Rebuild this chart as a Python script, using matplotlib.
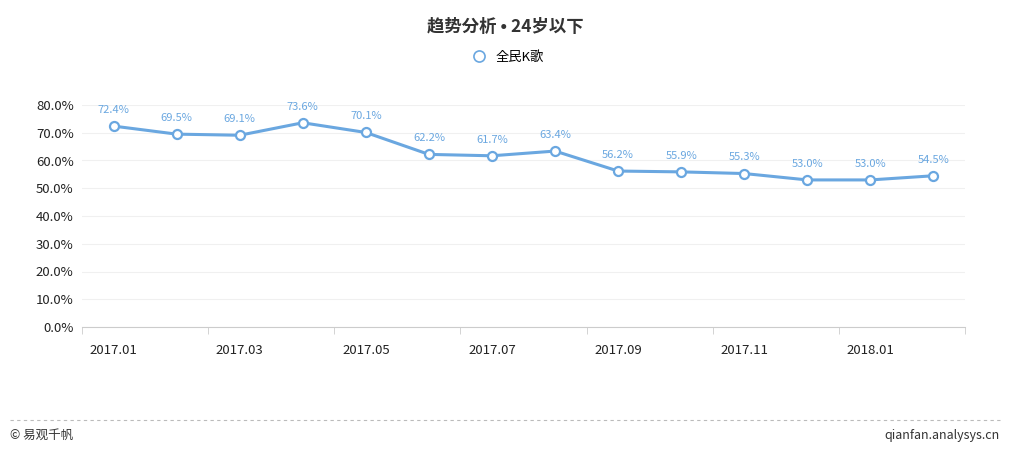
import matplotlib
matplotlib.use("Agg")
import matplotlib.pyplot as plt
from matplotlib.lines import Line2D
from matplotlib import font_manager as fm

fam = "DejaVu Sans"
for f in fm.findSystemFonts():
    if "NotoSansCJK" in f.replace(" ", "") or "NotoSansSC" in f:
        try:
            fm.fontManager.addfont(f)
        except Exception:
            pass
names = {f.name for f in fm.fontManager.ttflist}
for cand in ["Noto Sans CJK SC", "Noto Sans CJK JP", "Noto Sans CJK TC", "Noto Sans CJK KR", "Noto Sans SC"]:
    if cand in names:
        fam = cand
        break
plt.rcParams["font.family"] = [fam, "DejaVu Sans"]

months = ["2017.01","2017.02","2017.03","2017.04","2017.05","2017.06","2017.07",
          "2017.08","2017.09","2017.10","2017.11","2017.12","2018.01","2018.02"]
values = [72.4,69.5,69.1,73.6,70.1,62.2,61.7,63.4,56.2,55.9,55.3,53.0,53.0,54.5]
series_name = "全民K歌"
title = "趋势分析 • 24岁以下"
color = "#6aa7e0"

fig = plt.figure(figsize=(10.1,4.5), dpi=100)
W, H = 1010, 450
ax = fig.add_axes([82/W, 1-327/H, (965-82)/W, (327-105)/H])
x = list(range(len(values)))
ax.plot(x, values, color=color, lw=2.2, marker="o", ms=6.5, mfc="white", mec=color, mew=1.6, zorder=3)
for xi, v in zip(x, values):
    ax.annotate(f"{v:.1f}%", (xi, v), xytext=(0, 8), textcoords="offset points",
                ha="center", va="bottom", fontsize=8, color=color)
ax.set_xlim(-0.5, len(values)-0.5)
ax.set_ylim(0, 80)
ax.set_yticks(range(0, 81, 10))
ax.set_yticklabels([f"{t:.1f}%" for t in range(0, 81, 10)], fontsize=9.5, color="#222")
ax.set_xticks(x[::2])
ax.set_xticklabels(months[::2], fontsize=9.5, color="#222")
ax.set_xticks([i-0.5 for i in range(0, len(values)+1, 2)], minor=True)
ax.tick_params(axis="x", which="major", length=0, pad=12)
ax.tick_params(axis="x", which="minor", length=5, color="#ccc")
ax.tick_params(axis="y", length=0, pad=6)
ax.grid(axis="y", color="#f0f0f0", lw=0.8)
for s in ["top","right","left"]:
    ax.spines[s].set_visible(False)
ax.spines["bottom"].set_color("#ccc")

fig.text(0.5, 1-27/H, title, ha="center", va="center", fontsize=12.5, fontweight="bold", color="#333")
fig.legend(handles=[Line2D([], [], ls="", marker="o", ms=8, mfc="white", mec=color, mew=1.2, label=series_name)],
           loc="center", bbox_to_anchor=(0.5, 1-57/H), frameon=False, fontsize=9.5,
           handletextpad=0.2)
fig.add_artist(Line2D([10/W, 1000/W], [1-420/H]*2, color="#bbb", lw=0.8, ls=(0,(3,3))))
fig.text(10/W, 1-435/H, "© 易观千帆", ha="left", va="center", fontsize=9, color="#333")
fig.text(1000/W, 1-435/H, "qianfan.analysys.cn", ha="right", va="center", fontsize=9, color="#333")
fig.savefig("out.png", dpi=100)
